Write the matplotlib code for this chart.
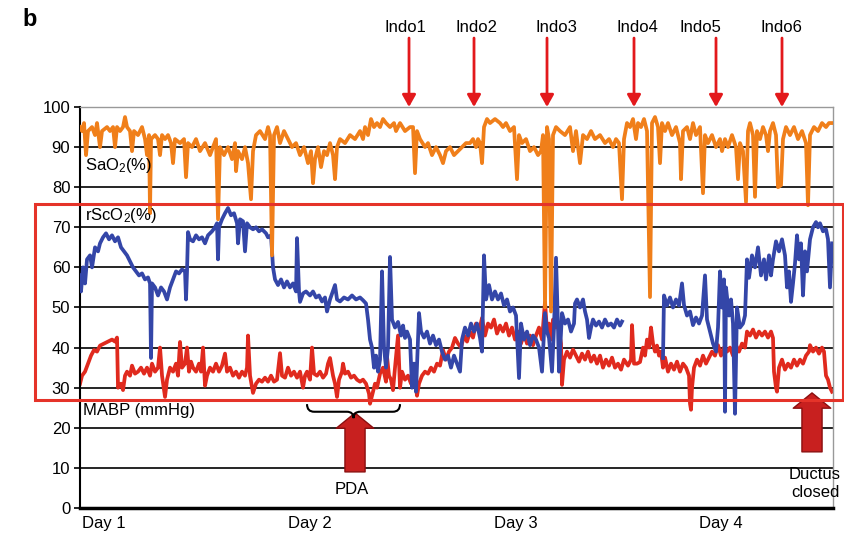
import matplotlib
matplotlib.use("Agg")
import matplotlib.pyplot as plt
from matplotlib.patches import Rectangle, PathPatch
from matplotlib.path import Path
import numpy as np

plt.rcParams['font.family'] = ['Liberation Sans', 'DejaVu Sans']
plt.rcParams['mathtext.default'] = 'regular'

# time in minutes from the start of day 1
day_ticks = [0, 1440, 2880, 4320]
day_labels = ["Day 1", "Day 2", "Day 3", "Day 4"]

sao2_t = [-168, -154, -140, -126, -112, -84, -63, -49, -28, -14,
          21, 42, 63, 77, 91, 112, 133, 147, 161, 182,
          196, 210, 238, 266, 287, 301, 315, 322, 329, 357,
          378, 392, 406, 427, 448, 469, 483, 497, 532, 560,
          574, 588, 616, 644, 672, 707, 742, 763, 784, 798,
          812, 840, 868, 896, 917, 924, 938, 966, 987, 1008,
          1029, 1043, 1064, 1092, 1127, 1148, 1162, 1176, 1190, 1211,
          1232, 1260, 1288, 1316, 1344, 1372, 1400, 1428, 1449, 1463,
          1477, 1498, 1519, 1540, 1561, 1582, 1603, 1617, 1631, 1652,
          1687, 1722, 1757, 1792, 1813, 1827, 1848, 1869, 1890, 1911,
          1932, 1953, 1974, 2002, 2030, 2044, 2058, 2072, 2107, 2142,
          2163, 2177, 2191, 2212, 2247, 2268, 2296, 2324, 2352, 2373,
          2394, 2422, 2450, 2478, 2506, 2534, 2562, 2583, 2604, 2618,
          2632, 2646, 2660, 2681, 2702, 2737, 2772, 2793, 2814, 2842,
          2870, 2891, 2905, 2926, 2954, 2982, 3010, 3038, 3059, 3073,
          3087, 3101, 3115, 3129, 3143, 3164, 3192, 3227, 3262, 3283,
          3304, 3332, 3353, 3381, 3409, 3437, 3472, 3507, 3535, 3563,
          3584, 3605, 3626, 3640, 3661, 3682, 3703, 3724, 3738, 3759,
          3780, 3801, 3822, 3836, 3857, 3878, 3892, 3906, 3927, 3948,
          3976, 4004, 4032, 4039, 4053, 4081, 4102, 4123, 4144, 4172,
          4193, 4207, 4228, 4256, 4284, 4312, 4326, 4347, 4368, 4396,
          4424, 4438, 4452, 4473, 4494, 4508, 4522, 4543, 4557, 4571,
          4592, 4613, 4634, 4648, 4662, 4683, 4704, 4718, 4739, 4753,
          4774, 4802, 4830, 4858, 4886, 4914, 4928, 4942, 4970, 4998,
          5026, 5054, 5075, 5096]
sao2 = [95, 94, 96, 88, 94, 95, 93, 96, 90, 94,
        95, 94, 95, 90, 95, 94, 95, 97.5, 95, 94,
        89, 94, 93, 95, 92, 88, 93, 73.5, 92, 93,
        92, 88, 93, 92, 93, 91, 86, 92, 91, 92,
        82.5, 91, 90, 92, 89, 91, 88, 90, 92, 72,
        90, 88, 90, 87, 91, 84, 89, 87, 90, 86,
        77, 89, 93, 94, 92, 95, 93, 63, 93, 95,
        91, 94, 92, 90, 91, 88, 90, 86, 89, 81,
        87, 90, 85, 89, 88, 91, 88, 82, 90, 92,
        91, 93, 92, 94, 92, 95, 93, 97, 95, 96,
        95, 97, 96, 95, 96, 94, 95, 96, 94, 95,
        95, 83.5, 94, 92, 90, 91, 88, 90, 88, 86,
        89, 90, 88, 89, 90, 91, 91, 92, 90, 92,
        91, 86, 95, 97, 96, 97, 96, 95, 96, 94,
        95, 82, 93, 91, 92, 89, 90, 88, 89, 93,
        50, 95, 92, 49, 93, 95, 94, 93, 95, 89,
        94, 86, 93, 92, 94, 92, 93, 91, 92, 90,
        92, 91, 77, 92, 96, 95, 97, 92, 96, 95,
        97, 94, 52.6, 96, 97.5, 95, 86, 96, 94, 96,
        93, 95, 91, 82, 94, 95, 92, 96, 93, 95,
        78.5, 93, 91, 93, 90, 92, 89, 92, 90, 93,
        90, 82, 91, 89, 76.3, 94, 96, 93, 77.6, 94,
        92, 95, 93, 89, 94, 96, 93, 80, 80.5, 92,
        95, 93, 95, 92, 94, 91, 75.5, 93, 95, 94,
        96, 95, 96, 96]

rso2_t = [-168, -161, -147, -133, -119, -98, -84, -63, -42, -28,
          -7, 14, 35, 56, 77, 98, 119, 140, 161, 182,
          203, 224, 245, 266, 287, 308, 322, 329, 336, 357,
          378, 399, 420, 441, 462, 483, 504, 525, 546, 567,
          574, 581, 588, 602, 623, 644, 665, 686, 707, 728,
          756, 777, 791, 798, 805, 826, 847, 868, 889, 910,
          931, 938, 952, 973, 987, 1001, 1022, 1043, 1064, 1085,
          1106, 1134, 1148, 1169, 1183, 1197, 1218, 1239, 1260, 1281,
          1302, 1323, 1344, 1351, 1365, 1372, 1393, 1414, 1442, 1463,
          1484, 1505, 1526, 1547, 1561, 1582, 1617, 1631, 1652, 1680,
          1708, 1736, 1764, 1792, 1813, 1834, 1848, 1862, 1876, 1890,
          1904, 1918, 1932, 1946, 1960, 1974, 1988, 2002, 2016, 2037,
          2058, 2079, 2093, 2107, 2121, 2142, 2156, 2170, 2184, 2205,
          2219, 2240, 2261, 2282, 2303, 2324, 2345, 2366, 2387, 2408,
          2429, 2450, 2471, 2492, 2506, 2527, 2548, 2569, 2590, 2611,
          2632, 2646, 2660, 2674, 2695, 2716, 2737, 2758, 2779, 2800,
          2821, 2842, 2863, 2884, 2905, 2919, 2940, 2961, 2982, 3003,
          3024, 3045, 3066, 3087, 3101, 3115, 3136, 3150, 3164, 3178,
          3185, 3206, 3227, 3248, 3269, 3290, 3297, 3311, 3332, 3353,
          3367, 3381, 3395, 3409, 3423, 3444, 3465, 3486, 3507, 3528,
          3549, 3570, 3591, 3612, 3626, 3752, 3913, 3920, 3941, 3962,
          3983, 4004, 4025, 4046, 4060, 4081, 4102, 4123, 4144, 4165,
          4186, 4207, 4221, 4242, 4263, 4284, 4298, 4312, 4326, 4340,
          4347, 4354, 4375, 4389, 4403, 4417, 4431, 4452, 4473, 4487,
          4501, 4515, 4536, 4557, 4578, 4599, 4620, 4634, 4655, 4669,
          4683, 4704, 4725, 4746, 4767, 4781, 4795, 4809, 4823, 4837,
          4851, 4865, 4879, 4893, 4907, 4921, 4942, 4963, 4984, 4998,
          5012, 5033, 5054, 5068, 5082, 5096]
rso2 = [58, 54, 60, 56, 62, 63, 60, 65, 64, 66,
        67.5, 68.5, 67, 68, 66.5, 67.5, 65, 64, 63, 61.5,
        60, 59, 58, 58.5, 57, 57.5, 56, 37.4, 56, 55,
        53, 55, 54, 52, 55, 57, 59, 58.5, 59.5, 59,
        52, 59, 68.8, 67, 66.5, 68, 67, 67.5, 66, 68,
        69, 70, 71, 62, 70, 72, 73.5, 74.8, 73, 73.5,
        71, 66, 72, 71.5, 64, 71, 70, 69.5, 70, 69,
        69.5, 68.5, 67.5, 68, 60, 57, 55.6, 57, 55, 56.5,
        55, 56, 54, 67.3, 54, 51.4, 53.5, 54, 53, 54,
        52.5, 53, 51.5, 52.5, 49, 52, 55.6, 52, 51.5, 52.5,
        52, 53, 52, 52.5, 51.8, 51, 47, 42, 40, 35,
        38, 34, 37, 59, 40, 35, 40, 62.6, 47, 45,
        46.4, 43, 45.5, 42.4, 44, 42, 30, 36, 29, 48.6,
        44, 42.5, 44, 41, 43, 40.6, 42, 39, 37, 38,
        35, 38, 36, 34, 42, 45, 43, 46, 44, 46,
        42.4, 39, 63, 52, 55.6, 52, 54, 52, 53.5, 50.5,
        52, 49, 50, 48, 32.4, 46, 42, 44, 40.6, 43,
        42, 40, 34, 48.6, 44, 42.4, 34, 45, 62.4, 45,
        34, 48.6, 46, 47, 44, 46, 51, 52, 50, 52,
        49, 47, 42.4, 45, 47, 45.5, 46.5, 45, 47, 45.5,
        46, 45, 47, 45.5, 46.5, np.nan, 37.4, 53, 50.5, 52.5,
        50, 52, 50.5, 56, 50.6, 48, 49, 45.6, 47.5, 46,
        48, 58, 47, 44, 41, 39, 45, 59, 50, 57,
        24, 55, 48, 52, 46, 23.5, 50, 45, 46, 48,
        62, 57.4, 63, 60, 65, 58, 62, 57, 63, 58,
        62, 66.5, 64, 67, 63, 55, 59, 51.4, 56, 61,
        68, 62, 66, 53, 64, 59, 67, 70, 71.3, 70,
        71, 69, 69.5, 67, 55, 66]

mabp_t = [-168, -154, -133, -112, -91, -70, -49, -28, 0, 28,
          56, 77, 91, 98, 119, 133, 147, 161, 182, 196,
          217, 238, 259, 280, 301, 322, 336, 357, 378, 392,
          406, 427, 441, 462, 483, 504, 518, 532, 546, 567,
          581, 595, 609, 623, 644, 665, 679, 693, 707, 721,
          742, 763, 784, 805, 826, 847, 861, 882, 903, 924,
          945, 966, 987, 1001, 1008, 1022, 1043, 1064, 1085, 1106,
          1127, 1148, 1169, 1190, 1211, 1232, 1246, 1267, 1288, 1309,
          1330, 1351, 1372, 1393, 1407, 1421, 1442, 1456, 1470, 1491,
          1512, 1533, 1554, 1568, 1582, 1603, 1617, 1631, 1645, 1666,
          1673, 1687, 1708, 1729, 1750, 1771, 1792, 1813, 1834, 1855,
          1862, 1876, 1897, 1911, 1932, 1953, 1974, 1981, 1995, 2009,
          2023, 2037, 2058, 2072, 2086, 2107, 2128, 2149, 2170, 2191,
          2205, 2226, 2247, 2268, 2289, 2310, 2331, 2352, 2373, 2394,
          2415, 2436, 2457, 2478, 2499, 2520, 2541, 2562, 2583, 2604,
          2625, 2646, 2667, 2688, 2709, 2730, 2751, 2772, 2793, 2814,
          2835, 2856, 2877, 2898, 2919, 2940, 2961, 2982, 3003, 3024,
          3045, 3066, 3087, 3101, 3115, 3129, 3143, 3157, 3171, 3185,
          3199, 3206, 3220, 3241, 3262, 3283, 3304, 3325, 3346, 3367,
          3388, 3409, 3430, 3451, 3472, 3493, 3514, 3535, 3556, 3577,
          3598, 3619, 3640, 3668, 3689, 3696, 3710, 3731, 3752, 3773,
          3787, 3801, 3815, 3829, 3843, 3857, 3871, 3885, 3899, 3913,
          3927, 3948, 3969, 3990, 4011, 4032, 4053, 4074, 4095, 4102,
          4109, 4116, 4130, 4151, 4172, 4193, 4214, 4235, 4256, 4277,
          4298, 4319, 4340, 4361, 4382, 4403, 4424, 4445, 4466, 4487,
          4501, 4522, 4543, 4564, 4585, 4606, 4627, 4648, 4669, 4683,
          4690, 4704, 4711, 4725, 4746, 4767, 4788, 4809, 4830, 4851,
          4872, 4893, 4914, 4935, 4942, 4963, 4984, 5005, 5026, 5040,
          5054, 5068, 5082, 5096]
mabp = [31, 33, 34, 36, 38, 39.4, 39, 40.5, 41, 41.5,
        42, 41.5, 42.5, 30, 31, 29.4, 33, 34, 33, 35.5,
        33.5, 34, 35, 33.5, 35, 33, 36, 34, 35, 40,
        33, 27.7, 32, 35, 34, 36, 33, 41.4, 35, 36,
        40, 34, 36.5, 35, 34, 36, 34, 40, 30.5, 33,
        35, 34, 36, 34, 35.5, 38.5, 34, 35, 33, 34,
        32.5, 34, 33, 35, 43, 33, 28.7, 31, 32, 31.5,
        32.5, 31.5, 33, 31.5, 32, 38.6, 33, 32.5, 35, 33,
        34, 32.5, 34, 30, 33, 34, 32, 40, 33.5, 33,
        34, 32.5, 33.5, 36, 37.4, 33, 31, 27.7, 32, 34,
        36, 33.5, 34, 32.5, 33, 32, 31.5, 32, 31, 28.5,
        26, 28, 31, 30, 33.5, 35, 31.5, 37.7, 33, 32,
        29.4, 35, 43, 30, 34, 32, 33, 31, 34, 28,
        31, 33, 34, 33.5, 35, 34, 36, 35.5, 39.4, 37,
        39, 40, 42.4, 41, 40, 43, 41.5, 44, 42.5, 46,
        44, 47.4, 43, 46, 45, 47, 43.5, 45.5, 44, 46,
        43, 45, 42, 44, 41, 43.5, 41, 43, 40.6, 43,
        45, 42, 51.4, 44, 46, 42, 47, 45, 46.5, 44,
        41, 30.7, 37, 39, 37.5, 39.5, 38, 36.5, 38.5, 37,
        39, 36.5, 38, 36, 38, 35, 37, 35.5, 37.5, 35,
        36, 34.5, 37, 35.5, 37, 45.6, 36, 36, 36.4, 40,
        38, 42, 40, 45, 41, 39, 40.5, 38, 39, 35,
        37.5, 34, 36, 34.5, 36.5, 34, 36, 35, 33, 26,
        24.5, 30, 35, 37, 35.5, 38, 36, 37.5, 39, 38,
        40.6, 38, 40, 39, 40, 38, 40.6, 39, 41, 40,
        44, 43, 44.5, 42.5, 44, 43, 44, 42.5, 44, 42.4,
        34, 30, 29, 35, 37, 34.5, 36, 35, 37, 35.5,
        37, 36, 38, 39, 40.6, 39, 40, 38.5, 40, 39,
        33, 32, 30, 29]

indo_t = [2135, 2590, 3101, 3710, 4284, 4746]
indo_label_t = [2107, 2604, 3164, 3731, 4172, 4739]
indo_labels = ["Indo1", "Indo2", "Indo3", "Indo4", "Indo5", "Indo6"]

pda_span = [1421, 2072]
pda_arrow_t = 1757
ductus_arrow_t = 4956

fig = plt.figure(figsize=(8.45, 5.38), dpi=100)
ax = fig.add_axes([0.0947, 0.0558, 0.8911, 0.7453])

ax.hlines(range(10, 100, 10), -168, 5103, colors="black", lw=1.2, zorder=1)

ax.plot(mabp_t, mabp, color="#E02A1E", lw=2.7, zorder=2)
ax.plot(rso2_t, rso2, color="#3446A8", lw=2.7, zorder=3)
ax.plot(sao2_t, sao2, color="#F07F1A", lw=2.7, zorder=4)

ax.set_xlim(-168, 5103)
ax.set_ylim(0, 100)
ax.set_yticks(range(0, 101, 10))
ax.set_xticks(day_ticks)
ax.set_xticklabels(day_labels)
ax.tick_params(axis="x", length=0, pad=6, labelsize=12)
ax.tick_params(axis="y", length=4, width=1.2, labelsize=12, pad=3)
for side in ["top", "right"]:
    ax.spines[side].set_color("#999999")
    ax.spines[side].set_linewidth(1)
ax.spines["left"].set_linewidth(1.5)
ax.spines["bottom"].set_linewidth(2.5)

# red box around the rScO2 / MABP region
ax.add_patch(Rectangle((-483, 26.9), 5656, 48.9, fill=False, ec="#E53329",
                       lw=2.2, clip_on=False, zorder=6))

ax.text(-133, 85.3, "SaO$_2$(%)", fontsize=12, va="center", zorder=7)
ax.text(-133, 73.0, "rScO$_2$(%)", fontsize=12, va="center", zorder=7)
ax.text(-147, 24.4, "MABP (mmHg)", fontsize=12, va="center", zorder=7)

# indomethacin doses
for t, lt, lab in zip(indo_t, indo_label_t, indo_labels):
    ax.annotate("", xy=(t, 100), xytext=(t, 117.2),
                arrowprops=dict(arrowstyle="-|>,head_length=0.8,head_width=0.45",
                                color="#E3191C", lw=2, mutation_scale=9,
                                shrinkA=0, shrinkB=0),
                annotation_clip=False)
    ax.text(lt, 119.8, lab, fontsize=12, ha="center", va="center", clip_on=False)

# PDA brace
x0, x1 = pda_span
xm = (x0 + x1) / 2
verts = [(x0, 25.9), (x0, 24.0), (x0 + 50, 24.0),
         (xm - 46, 24.0), (xm, 24.0), (xm, 22.4),
         (xm, 24.0), (xm + 46, 24.0),
         (x1 - 50, 24.0), (x1, 24.0), (x1, 25.9)]
codes = [Path.MOVETO, Path.CURVE3, Path.CURVE3,
         Path.LINETO, Path.CURVE3, Path.CURVE3,
         Path.CURVE3, Path.CURVE3,
         Path.LINETO, Path.CURVE3, Path.CURVE3]
ax.add_patch(PathPatch(Path(verts, codes), fill=False, lw=1.5, ec="black",
                       clip_on=False, zorder=7))

block = dict(arrowstyle="simple,head_width=2.7,head_length=1.1,tail_width=1.45",
             mutation_scale=10, fc="#C8201F", ec="#8B0F10", lw=1,
             shrinkA=0, shrinkB=0)
ax.annotate("", xy=(pda_arrow_t, 23.7), xytext=(pda_arrow_t, 9.0),
            arrowprops=block, annotation_clip=False)
ax.text(pda_arrow_t - 21, 4.5, "PDA", fontsize=12, ha="center", va="center")

ax.annotate("", xy=(ductus_arrow_t, 28.7), xytext=(ductus_arrow_t, 14.0),
            arrowprops=block, annotation_clip=False)
ax.text(ductus_arrow_t + 21, 6.2, "Ductus\nclosed", fontsize=12, ha="center",
        va="center", linespacing=1.25, clip_on=False, zorder=7)

fig.text(0.026, 0.963, "b", fontsize=17, fontweight="bold", va="center")

fig.savefig("out.png", dpi=100)
